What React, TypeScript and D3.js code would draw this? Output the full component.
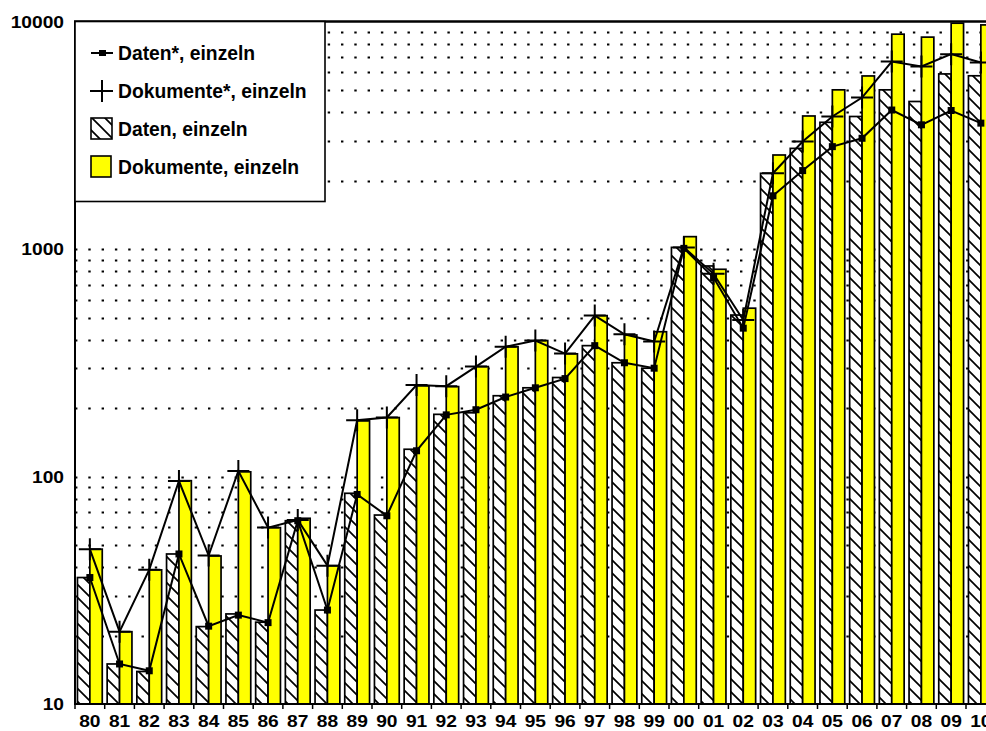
import React, { useEffect, useRef } from 'react';
import * as d3 from 'd3';

const categories = ['80', '81', '82', '83', '84', '85', '86', '87', '88', '89', '90', '91', '92', '93', '94', '95', '96', '97', '98', '99', '00', '01', '02', '03', '04', '05', '06', '07', '08', '09', '10'];
const datenBars = [36, 15, 13.9, 45.7, 21.9, 24.9, 22.9, 64, 25.9, 84.5, 67.8, 132, 188, 191, 227, 246, 273, 377, 317, 300, 1020, 845, 514, 2160, 2780, 3620, 3840, 5030, 4470, 5910, 5800];
const dokumenteBars = [48, 20.8, 38.9, 96, 44.8, 105, 59.7, 65.6, 40.6, 176, 182, 251, 249, 305, 373, 397, 347, 511, 420, 434, 1137, 817, 551, 2600, 3860, 5030, 5790, 8840, 8580, 9880, 9710];
const datenStar = [36, 15, 14, 45.7, 22, 24.6, 22.8, 64, 25.9, 83.5, 67.3, 130, 187, 197, 224, 246, 270, 377, 317, 300, 1010, 751, 450, 1720, 2220, 2830, 3080, 4100, 3530, 4080, 3590];
const dokumenteStar = [48, 20.8, 39, 95.7, 45, 106, 59.7, 64.5, 40.6, 177, 182, 253, 250, 305, 373, 397, 348, 511, 423, 393, 1020, 780, 489, 2160, 2980, 3840, 4650, 6700, 6370, 7220, 6630];
const yTicks = [10, 100, 1000, 10000];
const legendLabels = ['Daten*, einzeln', 'Dokumente*, einzeln', 'Daten, einzeln', 'Dokumente, einzeln'];

const WIDTH = 986;
const HEIGHT = 731;
const FONT = '"Liberation Sans", Arial, sans-serif';

export default function App() {
  const svgRef = useRef<SVGSVGElement>(null);

  useEffect(() => {
    if (!svgRef.current) return;
    const svg = d3.select(svgRef.current);
    svg.selectAll('*').remove();

    const left = 75;
    const top = 22;
    const bottom = 704;
    const step = 29.7;
    const right = left + categories.length * step;

    const x = d3.scaleBand<string>()
      .domain(categories)
      .range([left, right])
      .paddingInner(0.165)
      .paddingOuter(0.0825);
    const x1 = d3.scaleBand<string>()
      .domain(['daten', 'dok'])
      .range([0, x.bandwidth()]);
    const y = d3.scaleLog().domain([10, 10000]).range([bottom, top]);

    // hatch pattern
    const defs = svg.append('defs');
    const pat = defs.append('pattern')
      .attr('id', 'hatch')
      .attr('patternUnits', 'userSpaceOnUse')
      .attr('width', 13)
      .attr('height', 13);
    pat.append('rect').attr('width', 13).attr('height', 13).attr('fill', '#fff');
    pat.append('path')
      .attr('d', 'M0,0 L13,13 M-4,9 L4,17 M9,-4 L17,4')
      .attr('stroke', '#000')
      .attr('stroke-width', 1.7);

    // dotted gridlines (1..9 per decade)
    const gridVals: number[] = [];
    [10, 100, 1000].forEach(d => {
      for (let k = 1; k <= 9; k++) {
        if (d * k > 10) gridVals.push(d * k);
      }
    });
    svg.append('g')
      .selectAll('line')
      .data(gridVals)
      .enter()
      .append('line')
      .attr('x1', left)
      .attr('x2', WIDTH)
      .attr('y1', d => Math.round(y(d)) + 0.5)
      .attr('y2', d => Math.round(y(d)) + 0.5)
      .attr('stroke', '#000')
      .attr('stroke-width', 2)
      .attr('stroke-dasharray', '2.4 10.9');

    // bars
    const bars = svg.append('g');
    categories.forEach((c, i) => {
      const x0 = x(c) || 0;
      bars.append('rect')
        .attr('x', x0 + (x1('daten') || 0))
        .attr('y', y(datenBars[i]))
        .attr('width', x1.bandwidth())
        .attr('height', bottom - y(datenBars[i]))
        .attr('fill', 'url(#hatch)')
        .attr('stroke', '#000')
        .attr('stroke-width', 1.7);
      bars.append('rect')
        .attr('x', x0 + (x1('dok') || 0))
        .attr('y', y(dokumenteBars[i]))
        .attr('width', x1.bandwidth())
        .attr('height', bottom - y(dokumenteBars[i]))
        .attr('fill', '#ffff00')
        .attr('stroke', '#000')
        .attr('stroke-width', 1.7);
    });

    const cx = (c: string) => (x(c) || 0) + x.bandwidth() / 2;

    const line = (vals: number[]) => d3.line<string>()
      .x(d => cx(d))
      .y((d, i) => y(vals[i]))(categories);

    // Dokumente* line with plus markers
    svg.append('path')
      .attr('d', line(dokumenteStar) || '')
      .attr('fill', 'none')
      .attr('stroke', '#000')
      .attr('stroke-width', 2);
    svg.append('g')
      .selectAll('path')
      .data(categories)
      .enter()
      .append('path')
      .attr('d', (d, i) => {
        const px = cx(d), py = y(dokumenteStar[i]);
        return `M${px - 11},${py} H${px + 11} M${px},${py - 11} V${py + 11}`;
      })
      .attr('stroke', '#000')
      .attr('stroke-width', 2);

    // Daten* line with square markers
    svg.append('path')
      .attr('d', line(datenStar) || '')
      .attr('fill', 'none')
      .attr('stroke', '#000')
      .attr('stroke-width', 2);
    svg.append('g')
      .selectAll('rect')
      .data(categories)
      .enter()
      .append('rect')
      .attr('x', d => cx(d) - 3.5)
      .attr('y', (d, i) => y(datenStar[i]) - 3.5)
      .attr('width', 7)
      .attr('height', 7)
      .attr('fill', '#000');

    // axes
    svg.append('line')
      .attr('x1', left).attr('x2', left)
      .attr('y1', top - 1).attr('y2', bottom + 1)
      .attr('stroke', '#000').attr('stroke-width', 2);
    svg.append('line')
      .attr('x1', left - 1).attr('x2', WIDTH)
      .attr('y1', bottom).attr('y2', bottom)
      .attr('stroke', '#000').attr('stroke-width', 2);
    svg.append('line')
      .attr('x1', left - 1).attr('x2', WIDTH)
      .attr('y1', top - 0.5).attr('y2', top - 0.5)
      .attr('stroke', '#000').attr('stroke-width', 2.5);

    // x ticks at band boundaries
    svg.append('g')
      .selectAll('line')
      .data(d3.range(categories.length + 1))
      .enter()
      .append('line')
      .attr('x1', i => left + i * step)
      .attr('x2', i => left + i * step)
      .attr('y1', bottom)
      .attr('y2', bottom + 5)
      .attr('stroke', '#000')
      .attr('stroke-width', 1.5);

    // x labels
    svg.append('g')
      .selectAll('text')
      .data(categories)
      .enter()
      .append('text')
      .attr('transform', d => `translate(${cx(d)},${bottom + 23}) scale(1.2,1)`)
      .attr('text-anchor', 'middle')
      .style('font-family', FONT)
      .style('font-weight', 'bold')
      .style('font-size', '16px')
      .text(d => d);

    // y labels
    svg.append('g')
      .selectAll('text')
      .data(yTicks)
      .enter()
      .append('text')
      .attr('transform', d => `translate(64,${y(d) + 6}) scale(1.2,1)`)
      .attr('text-anchor', 'end')
      .style('font-family', FONT)
      .style('font-weight', 'bold')
      .style('font-size', '16px')
      .text(d => String(d));

    // legend
    const lg = svg.append('g');
    lg.append('rect')
      .attr('x', left).attr('y', top - 0.5)
      .attr('width', 250).attr('height', 180)
      .attr('fill', '#fff')
      .attr('stroke', '#000')
      .attr('stroke-width', 1.6);

    const rows = [53, 91, 129, 167];
    // Daten* sample
    lg.append('line')
      .attr('x1', 91).attr('x2', 113)
      .attr('y1', rows[0]).attr('y2', rows[0])
      .attr('stroke', '#000').attr('stroke-width', 2);
    lg.append('rect')
      .attr('x', 99).attr('y', rows[0] - 3).attr('width', 7).attr('height', 6)
      .attr('fill', '#000');
    // Dokumente* sample
    lg.append('path')
      .attr('d', `M90,${rows[1]} H113 M102,${rows[1] - 11} V${rows[1] + 11}`)
      .attr('stroke', '#000').attr('stroke-width', 2);
    // Daten sample
    lg.append('rect')
      .attr('x', 91).attr('y', rows[2] - 11).attr('width', 21).attr('height', 21)
      .attr('fill', 'url(#hatch)')
      .attr('stroke', '#000').attr('stroke-width', 1.6);
    // Dokumente sample
    lg.append('rect')
      .attr('x', 91).attr('y', rows[3] - 11).attr('width', 20).attr('height', 21)
      .attr('fill', '#ffff00')
      .attr('stroke', '#000').attr('stroke-width', 1.6);

    lg.selectAll('text.lbl')
      .data(legendLabels)
      .enter()
      .append('text')
      .attr('class', 'lbl')
      .attr('x', 118)
      .attr('y', (d, i) => rows[i] + 7)
      .style('font-family', FONT)
      .style('font-weight', 'bold')
      .style('font-size', '19.3px')
      .text(d => d);
  }, []);

  return (
    <svg
      ref={svgRef}
      width={WIDTH}
      height={HEIGHT}
      style={{ position: 'absolute', left: 0, top: 0, background: '#fff' }}
    />
  );
}
